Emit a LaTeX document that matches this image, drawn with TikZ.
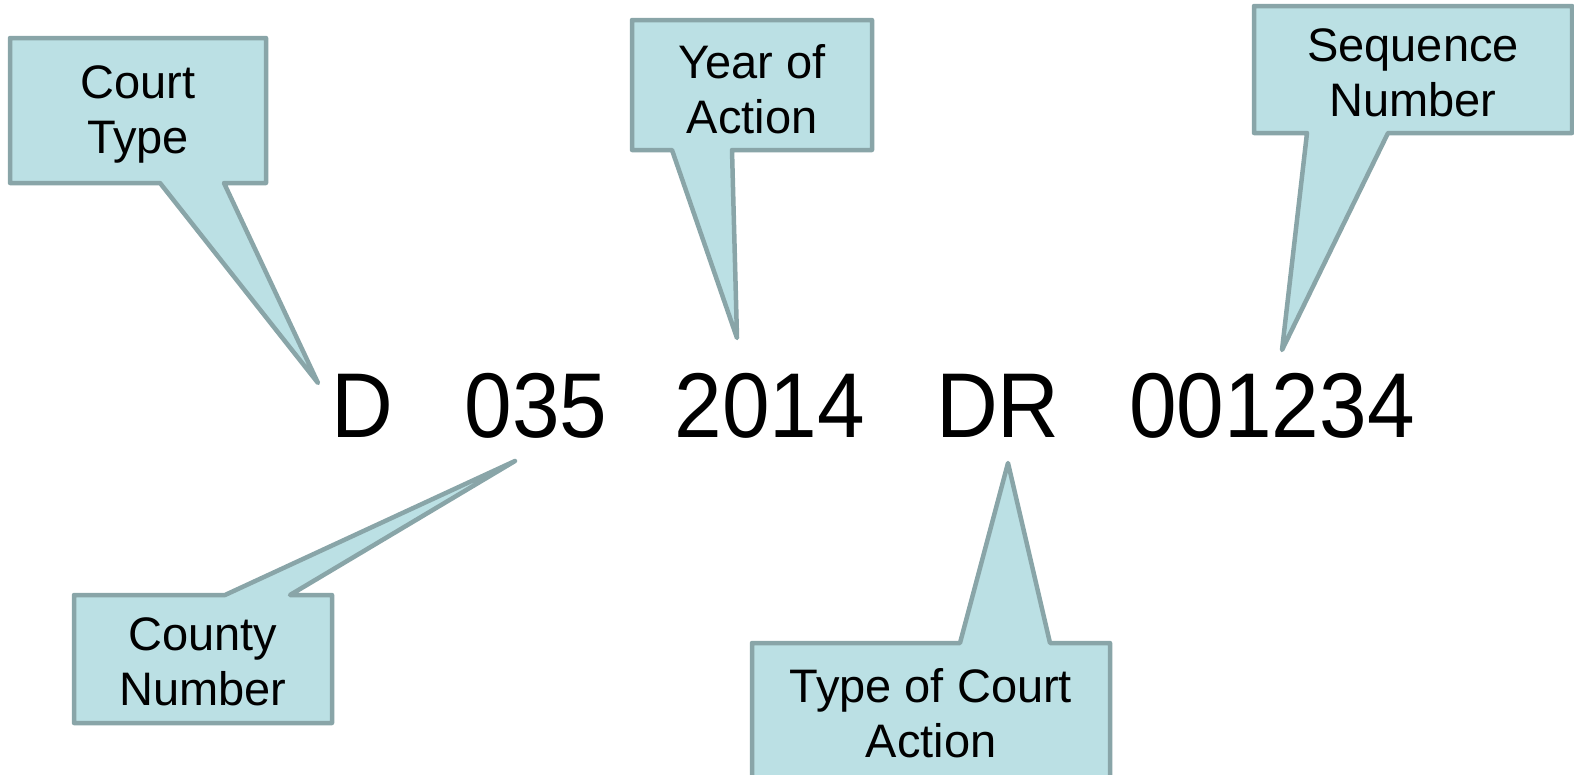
\documentclass[tikz,border=0pt]{standalone}
\usepackage{fontspec}
\setmainfont{Liberation Sans}
\definecolor{cfill}{RGB}{187,224,228}
\definecolor{cline}{RGB}{137,165,168}
\begin{document}
\begin{tikzpicture}[x=1pt,y=-1pt,
  callout/.style={fill=cfill,draw=cline,line width=4.5pt,line join=round},
  lbl/.style={align=center,font=\fontsize{47}{55}\selectfont,text=black,inner sep=0pt},
  code/.style={anchor=base,inner sep=0pt,font=\fontsize{92}{100}\selectfont}]
\useasboundingbox (0,0) rectangle (1574,774);
% tips
\coordinate (tipA) at (318,383);
\coordinate (tipB) at (737,338);
\coordinate (tipC) at (1282,350);
\coordinate (tipD) at (515,461);
\coordinate (tipE) at (1008,463);
% callouts
\draw[callout] (10,38) -- (266,38) -- (266,183) -- (224,183) -- (tipA) -- (160,183) -- (10,183) -- cycle;
\draw[callout] (632,20) -- (872,20) -- (872,150) -- (732,150) -- (tipB) -- (672,150) -- (632,150) -- cycle;
\draw[callout] (1254,6) -- (1572,6) -- (1572,133) -- (1388,133) -- (tipC) -- (1307,133) -- (1254,133) -- cycle;
\draw[callout] (74,595) -- (225,595) -- (tipD) -- (290,595) -- (332,595) -- (332,723) -- (74,723) -- cycle;
\draw[callout] (752,643) -- (960,643) -- (tipE) -- (1050,643) -- (1110,643) -- (1110,790) -- (752,790) -- cycle;
% labels
\node[lbl] (court) at (138,114) {Court\\Type};
\node[lbl] (year) at (752,89) {Year of\\Action};
\node[lbl] (seq) at (1413,73) {Sequence\\Number};
\node[lbl] (county) at (203,662) {County\\Number};
\node[lbl] (action) at (931,713) {Type of Court\\Action};
% code tokens
\node[code] (tD) at (362,437) {\scalebox{0.93}[1]{D}};
\node[code] (t035) at (536,437) {\scalebox{0.93}[1]{035}};
\node[code] (t2014) at (770,437) {\scalebox{0.93}[1]{2014}};
\node[code] (tDR) at (998,437) {\scalebox{0.93}[1]{DR}};
\node[code] (t001234) at (1272,437) {\scalebox{0.93}[1]{001234}};
\end{tikzpicture}
\end{document}
